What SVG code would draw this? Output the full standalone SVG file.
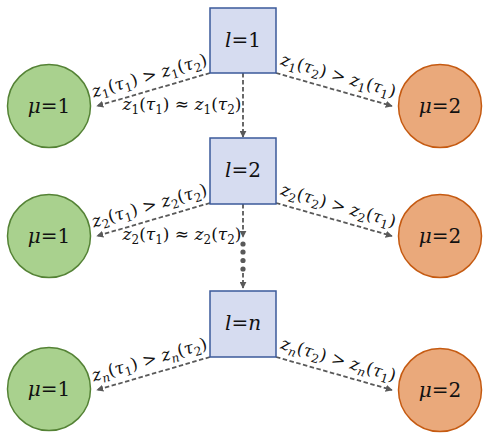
<svg xmlns="http://www.w3.org/2000/svg" width="490" height="438" viewBox="0 0 490 438">
<defs>
<marker id="ah" viewBox="0 0 10 10" refX="9" refY="5" markerWidth="7" markerHeight="7" orient="auto" markerUnits="userSpaceOnUse">
<path d="M0,0 L10,5 L0,10 z" fill="#595959"/>
</marker>
</defs>
<style>
.box{fill:#d6dcf0;stroke:#3b5a9a;stroke-width:1.5}
.g{fill:#a9d18e;stroke:#548235;stroke-width:1.5}
.o{fill:#eaa97b;stroke:#c55a11;stroke-width:1.5}
.nt{font-family:"DejaVu Serif","Liberation Serif",serif;font-size:20px;fill:#111;text-anchor:middle}
.lb{font-family:"DejaVu Serif","Liberation Serif",serif;font-size:17px;fill:#111;text-anchor:middle}
.i{font-style:italic}
.s{font-size:12px}
.ln{stroke:#595959;stroke-width:1.8;stroke-dasharray:4.5,2.5;fill:none}
</style>
<g id="connectors">
<path class="ln" d="M210,73 L97,106" marker-end="url(#ah)"/>
<path class="ln" d="M276,73 L392,106" marker-end="url(#ah)"/>
<path class="ln" d="M243,73 L243,137" marker-end="url(#ah)"/>
<path class="ln" d="M210,203 L97,236" marker-end="url(#ah)"/>
<path class="ln" d="M276,203 L392,236" marker-end="url(#ah)"/>
<path class="ln" d="M243,204 L243,237" marker-end="url(#ah)"/>
<g fill="#595959"><circle cx="243" cy="244" r="2.6"/><circle cx="243" cy="252" r="2.6"/><circle cx="243" cy="260.5" r="2.6"/><circle cx="243" cy="269" r="2.6"/></g>
<path class="ln" d="M243,273 L243,288" marker-end="url(#ah)"/>
<path class="ln" d="M210,357 L97,390" marker-end="url(#ah)"/>
<path class="ln" d="M276,357 L392,390" marker-end="url(#ah)"/>
</g>
<g id="labels">
<text class="lb" transform="translate(151,81) rotate(-16)"><tspan class="i">z</tspan><tspan class="s" dy="4">1</tspan><tspan dy="-4">(</tspan><tspan class="i">τ</tspan><tspan class="s" dy="4">1</tspan><tspan dy="-4">) &gt; </tspan><tspan class="i">z</tspan><tspan class="s" dy="4">1</tspan><tspan dy="-4">(</tspan><tspan class="i">τ</tspan><tspan class="s" dy="4">2</tspan><tspan dy="-4">)</tspan></text>
<text class="lb" x="182" y="110"><tspan class="i">z</tspan><tspan class="s" dy="4">1</tspan><tspan dy="-4">(</tspan><tspan class="i">τ</tspan><tspan class="s" dy="4">1</tspan><tspan dy="-4">) ≈ </tspan><tspan class="i">z</tspan><tspan class="s" dy="4">1</tspan><tspan dy="-4">(</tspan><tspan class="i">τ</tspan><tspan class="s" dy="4">2</tspan><tspan dy="-4">)</tspan></text>
<text class="lb" transform="translate(337,81) rotate(16)"><tspan class="i">z</tspan><tspan class="s" dy="4">1</tspan><tspan dy="-4">(</tspan><tspan class="i">τ</tspan><tspan class="s" dy="4">2</tspan><tspan dy="-4">) &gt; </tspan><tspan class="i">z</tspan><tspan class="s" dy="4">1</tspan><tspan dy="-4">(</tspan><tspan class="i">τ</tspan><tspan class="s" dy="4">1</tspan><tspan dy="-4">)</tspan></text>
<text class="lb" transform="translate(151,211) rotate(-16)"><tspan class="i">z</tspan><tspan class="s" dy="4">2</tspan><tspan dy="-4">(</tspan><tspan class="i">τ</tspan><tspan class="s" dy="4">1</tspan><tspan dy="-4">) &gt; </tspan><tspan class="i">z</tspan><tspan class="s" dy="4">2</tspan><tspan dy="-4">(</tspan><tspan class="i">τ</tspan><tspan class="s" dy="4">2</tspan><tspan dy="-4">)</tspan></text>
<text class="lb" x="182" y="240"><tspan class="i">z</tspan><tspan class="s" dy="4">2</tspan><tspan dy="-4">(</tspan><tspan class="i">τ</tspan><tspan class="s" dy="4">1</tspan><tspan dy="-4">) ≈ </tspan><tspan class="i">z</tspan><tspan class="s" dy="4">2</tspan><tspan dy="-4">(</tspan><tspan class="i">τ</tspan><tspan class="s" dy="4">2</tspan><tspan dy="-4">)</tspan></text>
<text class="lb" transform="translate(337,211) rotate(16)"><tspan class="i">z</tspan><tspan class="s" dy="4">2</tspan><tspan dy="-4">(</tspan><tspan class="i">τ</tspan><tspan class="s" dy="4">2</tspan><tspan dy="-4">) &gt; </tspan><tspan class="i">z</tspan><tspan class="s" dy="4">2</tspan><tspan dy="-4">(</tspan><tspan class="i">τ</tspan><tspan class="s" dy="4">1</tspan><tspan dy="-4">)</tspan></text>
<text class="lb" transform="translate(151,365) rotate(-16)"><tspan class="i">z</tspan><tspan class="s i" dy="4">n</tspan><tspan dy="-4">(</tspan><tspan class="i">τ</tspan><tspan class="s" dy="4">1</tspan><tspan dy="-4">) &gt; </tspan><tspan class="i">z</tspan><tspan class="s i" dy="4">n</tspan><tspan dy="-4">(</tspan><tspan class="i">τ</tspan><tspan class="s" dy="4">2</tspan><tspan dy="-4">)</tspan></text>
<text class="lb" transform="translate(337,365) rotate(16)"><tspan class="i">z</tspan><tspan class="s i" dy="4">n</tspan><tspan dy="-4">(</tspan><tspan class="i">τ</tspan><tspan class="s" dy="4">2</tspan><tspan dy="-4">) &gt; </tspan><tspan class="i">z</tspan><tspan class="s i" dy="4">n</tspan><tspan dy="-4">(</tspan><tspan class="i">τ</tspan><tspan class="s" dy="4">1</tspan><tspan dy="-4">)</tspan></text>
</g>
<g id="box1"><rect class="box" x="210" y="8" width="66" height="65"/><text class="nt" x="243" y="47"><tspan class="i">l</tspan>=1</text></g>
<g id="box2"><rect class="box" x="210" y="138" width="66" height="66"/><text class="nt" x="243" y="177"><tspan class="i">l</tspan>=2</text></g>
<g id="box3"><rect class="box" x="210" y="291" width="66" height="66"/><text class="nt" x="243" y="330"><tspan class="i">l</tspan>=<tspan class="i">n</tspan></text></g>
<g id="g1"><circle class="g" cx="49" cy="106" r="41.5"/><text class="nt" x="49" y="113"><tspan class="i">μ</tspan>=1</text></g>
<g id="o1"><circle class="o" cx="440" cy="106" r="41.5"/><text class="nt" x="440" y="113"><tspan class="i">μ</tspan>=2</text></g>
<g id="g2"><circle class="g" cx="49" cy="236" r="41.5"/><text class="nt" x="49" y="243"><tspan class="i">μ</tspan>=1</text></g>
<g id="o2"><circle class="o" cx="440" cy="236" r="41.5"/><text class="nt" x="440" y="243"><tspan class="i">μ</tspan>=2</text></g>
<g id="g3"><circle class="g" cx="49" cy="389" r="41.5"/><text class="nt" x="49" y="396"><tspan class="i">μ</tspan>=1</text></g>
<g id="o3"><circle class="o" cx="440" cy="390" r="41.5"/><text class="nt" x="440" y="397"><tspan class="i">μ</tspan>=2</text></g>
</svg>
